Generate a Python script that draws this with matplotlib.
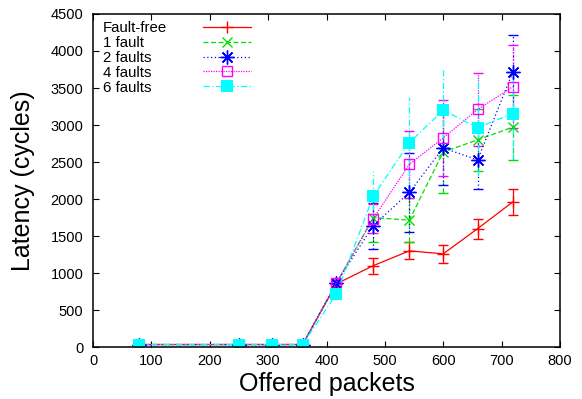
import matplotlib
matplotlib.use("Agg")
import matplotlib.pyplot as plt
from matplotlib.lines import Line2D
from matplotlib.ticker import MultipleLocator

plt.rcParams['font.family'] = ['Liberation Sans', 'DejaVu Sans']

# Offered load (packets) and measured latency per fault scenario
offered = [78, 250, 306, 359, 417, 480, 542, 600, 659, 719]

lat_free = [35, 35, 35, 35, 855, 1100, 1300, 1260, 1600, 1960]
err_free = [0, 0, 0, 0, 40, 108, 115, 120, 135, 180]

lat_1 = [35, 35, 35, 35, 860, 1750, 1715, 2635, 2800, 2970]
err_1 = [0, 0, 0, 0, 40, 330, 300, 550, 420, 440]

lat_2 = [35, 35, 35, 35, 870, 1640, 2090, 2690, 2530, 3710]
err_2 = [0, 0, 0, 0, 40, 310, 530, 500, 390, 500]

lat_4 = [35, 35, 35, 35, 870, 1735, 2470, 2825, 3210, 3515]
err_4 = [0, 0, 0, 0, 40, 200, 450, 510, 490, 560]

lat_6 = [35, 35, 35, 35, 720, 2036, 2762, 3199, 2965, 3154]
err_6 = [0, 0, 0, 0, 40, 340, 616, 550, 660, 608]

labels = ["Fault-free", "1 fault", "2 faults", "4 faults", "6 faults"]

fig = plt.figure(figsize=(5.82, 3.99), dpi=100)
ax = fig.add_axes([0.160, 0.130, 0.802, 0.835])

styles = [
    dict(color="#ff0000", ls="-", marker="+", ms=9, mfc="none", mew=1.0),
    dict(color="#00e000", ls=(0, (4, 2)), marker="x", ms=7.5, mfc="none", mew=1.0),
    dict(color="#0000ff", ls=(0, (1, 2)), marker=(8, 2, 0), ms=10, mfc="none", mew=1.0),
    dict(color="#ff00ff", ls=(0, (1, 1)), marker="s", ms=7.5, mfc="none", mew=1.0),
    dict(color="#00ffff", ls=(0, (5, 2, 1, 2)), marker="s", ms=8, mfc="#00ffff", mew=0),
]
data = [(lat_free, err_free), (lat_1, err_1), (lat_2, err_2), (lat_4, err_4), (lat_6, err_6)]

proxies = []
for (y, e), st in zip(data, styles):
    col = st["color"]
    eb = ax.errorbar(offered, y, yerr=e, color=col, ecolor=col, elinewidth=0.9,
                     capsize=3.5, capthick=0.9, lw=0.9, ls=st["ls"],
                     marker=st["marker"], ms=st["ms"], mfc=st["mfc"],
                     mec=col, mew=st["mew"])
    for lc in eb[2]:
        lc.set_linestyle(st["ls"])
    proxies.append(Line2D([], [], color=col, lw=0.9, ls=st["ls"], marker=st["marker"],
                          ms=st["ms"], mfc=st["mfc"], mec=col, mew=st["mew"]))

ax.set_xlim(0, 800)
ax.set_ylim(0, 4500)
ax.xaxis.set_major_locator(MultipleLocator(100))
ax.yaxis.set_major_locator(MultipleLocator(500))
ax.tick_params(direction="in", top=True, right=True, length=4, width=0.8,
               labelsize=10.5, colors="black")
ax.tick_params(axis="x", pad=5)
ax.tick_params(axis="y", pad=7)
for sp in ax.spines.values():
    sp.set_linewidth(1.1)

ax.set_xlabel("Offered packets", fontsize=18, labelpad=3)
ax.set_ylabel("Latency (cycles)", fontsize=18, labelpad=11)

# Key: left-aligned titles with the line samples in a separate column
legend_kw = dict(frameon=False, fontsize=10.8, labelspacing=0.06, borderpad=0,
                 borderaxespad=0, loc="upper left", bbox_transform=fig.transFigure)
blank = [Line2D([], [], ls="none") for _ in labels]
key_text = ax.legend(blank, labels, handlelength=0, handletextpad=0,
                     bbox_to_anchor=(103 / 582, 1 - 21 / 399), **legend_kw)
ax.add_artist(key_text)
ax.legend(proxies, [""] * len(labels), handlelength=3.2, handletextpad=0,
          bbox_to_anchor=(203 / 582, 1 - 21 / 399), **legend_kw)

fig.savefig("out.png", dpi=100)
